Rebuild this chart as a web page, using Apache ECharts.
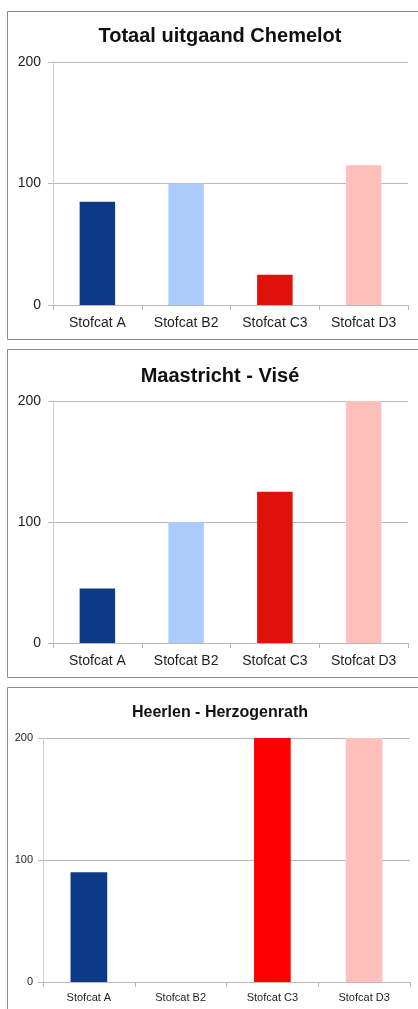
<!DOCTYPE html>
<html>
<head>
    <meta charset="UTF-8">
    <script type="text/javascript" src="https://cdn.jsdelivr.net/npm/echarts@6/dist/echarts.min.js"></script>
    <style>
        html, body { margin: 0; padding: 0; background: #fff; }
    </style>
</head>
<body>
    <div style="height: 1009px;width: 418px" id="myDiv"></div>
    <script type="text/javascript">
        // data
        var categories = ['Stofcat A', 'Stofcat B2', 'Stofcat C3', 'Stofcat D3'];
        var titles = ['Totaal uitgaand Chemelot', 'Maastricht - Visé', 'Heerlen - Herzogenrath'];
        var chemelot = [85, 100, 25, 115];
        var maastricht = [45, 100, 125, 200];
        var heerlen = [90, 0, 200, 200];
        var yTicks = [0, 100, 200];

        var seriesData = [chemelot, maastricht, heerlen];
        var colors12 = ['#0d3a86', '#abcbfd', '#e0100a', '#ffbfbb'];
        var colors3 = ['#0d3a86', '#abcbfd', '#ff0000', '#ffbfbb'];

        // layout of the three panels
        var panels = [
            { box: [7, 11, 420, 328], grid: [53, 62, 355, 243], titleTop: 21, tSize: 20, lSize: 14, yMargin: 12, xMargin: 11 },
            { box: [7, 349, 420, 328], grid: [53, 401, 355, 242], titleTop: 361, tSize: 20, lSize: 14, yMargin: 12, xMargin: 11 },
            { box: [7, 687, 420, 340], grid: [43, 738, 367, 244], titleTop: 700, tSize: 16, lSize: 11, yMargin: 10, xMargin: 10 }
        ];

        var chart = echarts.init(document.getElementById('myDiv'));
        var option = { animation: false, title: [], grid: [], xAxis: [], yAxis: [], series: [], graphic: [] };

        panels.forEach(function (p, i) {
            option.graphic.push({
                type: 'rect', left: p.box[0], top: p.box[1], silent: true, z: -1,
                shape: { width: p.box[2], height: p.box[3] },
                style: { fill: '#fff', stroke: '#8c8c8c', lineWidth: 1 }
            });
            option.title.push({
                text: titles[i], left: 215, top: p.titleTop, textAlign: 'center',
                textStyle: { fontFamily: 'Liberation Sans', fontSize: p.tSize, fontWeight: 'bold', color: '#111' }
            });
            option.grid.push({ left: p.grid[0], top: p.grid[1], width: p.grid[2], height: p.grid[3] });
            option.xAxis.push({
                type: 'category', gridIndex: i, data: categories,
                axisLine: { lineStyle: { color: '#b8b8b8' } },
                axisTick: { show: true, length: 5, lineStyle: { color: '#b8b8b8' } },
                axisLabel: { color: '#1e1e1e', fontFamily: 'Liberation Sans', fontSize: p.lSize, margin: p.xMargin }
            });
            option.yAxis.push({
                type: 'value', gridIndex: i, min: yTicks[0], max: yTicks[yTicks.length - 1], interval: 100,
                axisLine: { show: true, lineStyle: { color: '#cfcfcf' } },
                axisTick: { show: true, length: 5, lineStyle: { color: '#b8b8b8' } },
                splitLine: { lineStyle: { color: '#b8b8b8' } },
                axisLabel: { color: '#1e1e1e', fontFamily: 'Liberation Sans', fontSize: p.lSize, margin: p.yMargin }
            });
            var cols = i === 2 ? colors3 : colors12;
            option.series.push({
                type: 'bar', xAxisIndex: i, yAxisIndex: i, barWidth: '40%',
                data: seriesData[i].map(function (v, k) {
                    return { value: v, itemStyle: { color: cols[k] } };
                })
            });
        });

        chart.setOption(option);
    </script>
</body>
</html>
